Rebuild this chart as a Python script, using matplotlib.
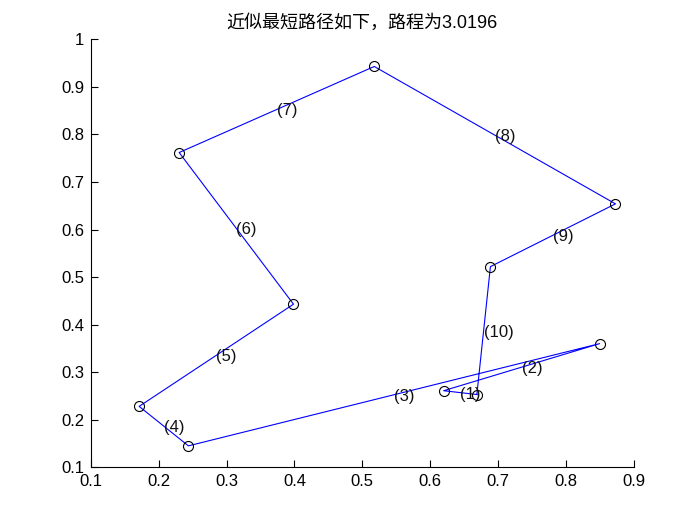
import matplotlib
matplotlib.use("Agg")
import matplotlib.pyplot as plt

plt.rcParams['font.family'] = ['Liberation Sans', 'Noto Sans CJK SC', 'DejaVu Sans']

# Tour order (closed), coordinates
route_x = [0.669, 0.620, 0.850, 0.2436, 0.171, 0.3986, 0.230, 0.5177, 0.8734, 0.689]
route_y = [0.253, 0.261, 0.360, 0.145, 0.228, 0.443, 0.762, 0.943, 0.654, 0.522]
seg_labels = ['(1)', '(2)', '(3)', '(4)', '(5)', '(6)', '(7)', '(8)', '(9)', '(10)']
title_text = '近似最短路径如下，路程为3.0196'
xticks = [0.1, 0.2, 0.3, 0.4, 0.5, 0.6, 0.7, 0.8, 0.9]
yticks = [0.1, 0.2, 0.3, 0.4, 0.5, 0.6, 0.7, 0.8, 0.9, 1.0]

fig = plt.figure(figsize=(7, 5.25), dpi=100)
ax = fig.add_axes([0.13, 0.11, 0.775, 0.815])

px = route_x + [route_x[0]]
py = route_y + [route_y[0]]
ax.plot(px, py, color='#0000ff', lw=0.8, zorder=2)
ax.plot(route_x, route_y, 'o', mfc='none', mec='black', ms=7.2, mew=0.8, zorder=3)

n = len(route_x)
for i in range(n):
    x0, y0 = px[i], py[i]
    x1, y1 = px[i + 1], py[i + 1]
    ax.text((x0 + x1) / 2, (y0 + y1) / 2, seg_labels[i], ha='left', va='center_baseline',
            fontsize=12, color='#111111', zorder=4)

ax.set_xlim(0.1, 0.9)
ax.set_ylim(0.1, 1.0)
ax.set_xticks(xticks)
ax.set_xticklabels([('%g' % v) for v in xticks])
ax.set_yticks(yticks)
ax.set_yticklabels([('%g' % v) for v in yticks])
ax.spines['top'].set_visible(False)
ax.spines['right'].set_visible(False)
for s in ['left', 'bottom']:
    ax.spines[s].set_linewidth(0.8)
ax.tick_params(direction='in', length=5, width=0.8, labelsize=12, pad=5)
ax.set_title(title_text, fontsize=13, pad=8)

fig.savefig('out.png', dpi=100)
